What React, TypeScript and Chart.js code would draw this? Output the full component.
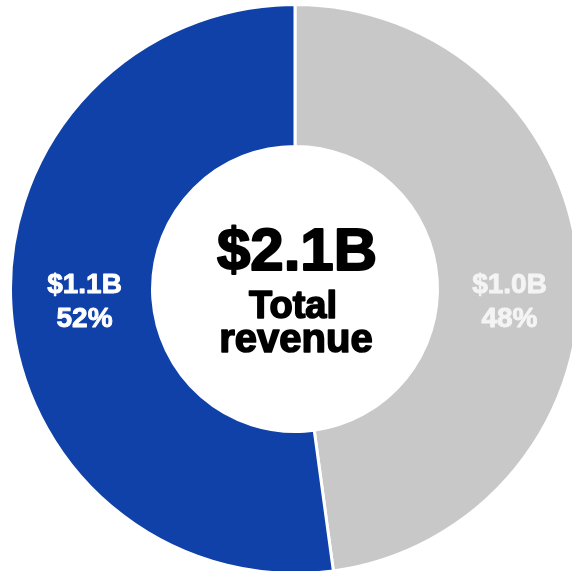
import React, { useEffect, useRef } from "react";
import { Chart, registerables } from "chart.js";

Chart.register(...registerables);

const segments = ["Segment B", "Segment A"];
const revenue = [1.0, 1.09];
const amountLabels = ["$1.0B", "$1.1B"];
const percentLabels = ["48%", "52%"];
const colors = ["#C8C8C8", "#0F41A8"];
const labelColors = ["#F4F4F4", "#FFFFFF"];
const totalLabel = "$2.1B";
const centerLines = ["Total", "revenue"];

const FONT = "'Liberation Sans', Arial, sans-serif";

function heavyText(ctx: CanvasRenderingContext2D, text: string, x: number, y: number, color: string, stroke: number) {
  ctx.fillStyle = color;
  ctx.strokeStyle = color;
  ctx.lineWidth = stroke;
  ctx.lineJoin = "round";
  ctx.fillText(text, x, y);
  if (stroke > 0) ctx.strokeText(text, x, y);
}

const textPlugin = {
  id: "doughnutText",
  afterDraw(chart: any) {
    const meta = chart.getDatasetMeta(0);
    const ctx = chart.ctx as CanvasRenderingContext2D;
    const arcs = meta.data as any[];
    if (!arcs.length) return;
    const first = arcs[0];
    const cx = first.x;
    const cy = first.y;
    const midR = (first.outerRadius + first.innerRadius) / 2;
    ctx.save();
    ctx.textAlign = "center";
    ctx.textBaseline = "alphabetic";
    arcs.forEach((arc: any, i: number) => {
      const mid = (arc.startAngle + arc.endAngle) / 2;
      const side = Math.cos(mid) >= 0 ? 1 : -1;
      const x = cx + side * midR + (side > 0 ? 1 : 3);
      ctx.font = `bold 28px ${FONT}`;
      heavyText(ctx, amountLabels[i], x, cy + 4, labelColors[i], 0.9);
      heavyText(ctx, percentLabels[i], x, cy + 38, labelColors[i], 0.9);
    });
    ctx.font = `bold 60px ${FONT}`;
    heavyText(ctx, totalLabel, cx + 2, cy - 19, "#000000", 2);
    ctx.font = `bold 38px ${FONT}`;
    heavyText(ctx, centerLines[0], cx - 2, cy + 29, "#000000", 1.6);
    ctx.font = `bold 40px ${FONT}`;
    heavyText(ctx, centerLines[1], cx + 1, cy + 63, "#000000", 1.6);
    ctx.restore();
  },
};

export default function App() {
  const ref = useRef<HTMLCanvasElement | null>(null);
  useEffect(() => {
    if (!ref.current) return;
    const chart = new Chart(ref.current, {
      type: "doughnut",
      data: {
        labels: segments,
        datasets: [
          {
            data: revenue,
            backgroundColor: colors,
            borderColor: "#FFFFFF",
            borderWidth: 3,
            hoverOffset: 0,
          },
        ],
      },
      options: {
        responsive: false,
        animation: false,
        radius: 284.5,
        cutout: 144,
        rotation: 0,
        layout: { padding: 0 },
        plugins: {
          legend: { display: false },
          tooltip: { enabled: false },
        },
      },
      plugins: [textPlugin],
    });
    return () => chart.destroy();
  }, []);
  return (
    <div
      style={{
        position: "fixed",
        left: 0,
        top: 0,
        width: 572,
        height: 571,
        overflow: "hidden",
        background: "#FFFFFF",
      }}
    >
      <canvas
        ref={ref}
        width={590}
        height={578}
        style={{ position: "absolute", left: 0, top: 0, width: 590, height: 578 }}
      />
    </div>
  );
}
